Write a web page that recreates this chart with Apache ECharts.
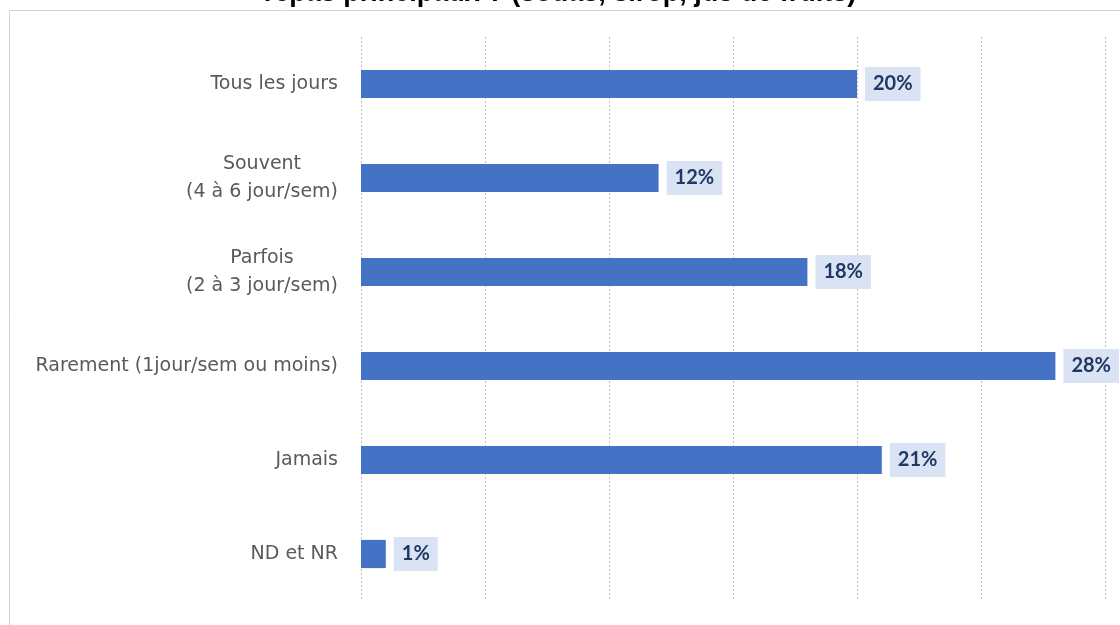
<!DOCTYPE html>
<html>
<head>
<meta charset="utf-8">
<script src="https://cdn.jsdelivr.net/npm/echarts@6/dist/echarts.min.js"></script>
<style>
  html, body { margin: 0; padding: 0; background: #fff; }
  #chart { width: 1120px; height: 625px; }
</style>
</head>
<body>
<div id="chart"></div>
<script>
// Fréquence de consommation de boissons sucrées
const titleText = 'repas principaux ? (sodas, sirop, jus de fruits)';
const categories = [
  'Tous les jours',
  'Souvent\n(4 à 6 jour/sem)',
  'Parfois\n(2 à 3 jour/sem)',
  'Rarement (1jour/sem ou moins)',
  'Jamais',
  'ND et NR'
];
const percentages = [20, 12, 18, 28, 21, 1];
const axisTicks = [0, 5, 10, 15, 20, 25, 30];

const chart = echarts.init(document.getElementById('chart'), null, { renderer: 'canvas' });

chart.setOption({
  backgroundColor: '#ffffff',
  animation: false,
  title: {
    text: titleText,
    left: 'center',
    top: -25,
    textStyle: { fontFamily: 'Liberation Sans', fontWeight: 'bold', fontSize: 27, color: '#000' }
  },
  graphic: [{
    type: 'rect',
    shape: { x: 9.5, y: 10.5, width: 1300, height: 800 },
    style: { fill: 'none', stroke: '#d4d4d4', lineWidth: 1 },
    silent: true,
    z: -1
  }],
  grid: { left: 361, right: 15, top: 37, bottom: 24, containLabel: false },
  xAxis: {
    type: 'value',
    min: axisTicks[0],
    max: axisTicks[axisTicks.length - 1],
    interval: axisTicks[1] - axisTicks[0],
    axisLine: { show: false },
    axisTick: { show: false },
    axisLabel: { show: false },
    splitLine: { show: true, lineStyle: { color: '#bdbdbd', type: [2, 2], width: 1 } }
  },
  yAxis: {
    type: 'category',
    inverse: true,
    data: categories,
    axisLine: { show: false },
    axisTick: { show: false },
    axisLabel: {
      margin: 23,
      color: '#595959',
      fontFamily: 'DejaVu Sans',
      fontSize: 19,
      lineHeight: 28,
      formatter: function (v) {
        return v.split('\n').map(function (s) { return '{c|' + s + '}'; }).join('\n');
      },
      rich: {
        c: { align: 'center', color: '#595959', fontFamily: 'DejaVu Sans', fontSize: 19, lineHeight: 28 }
      }
    }
  },
  series: [{
    type: 'bar',
    data: percentages,
    barWidth: '30%',
    itemStyle: { color: '#4472C4' },
    label: {
      show: true,
      position: 'right',
      distance: 8,
      formatter: '{c}%',
      fontFamily: 'Lato',
      fontWeight: 'bold',
      fontSize: 20,
      color: '#203864',
      backgroundColor: '#DAE3F3',
      padding: [8, 8, 6, 8]
    }
  }]
});
</script>
</body>
</html>
